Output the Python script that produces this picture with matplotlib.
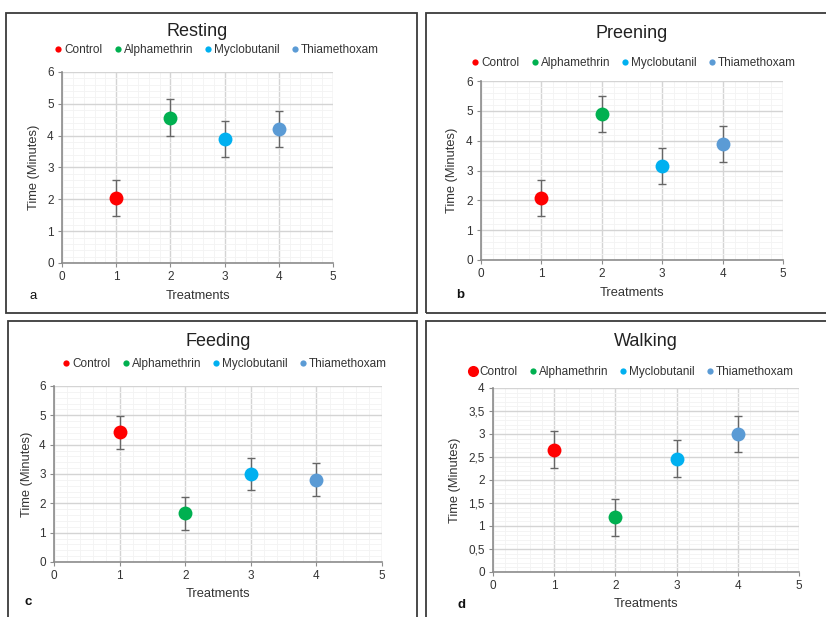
import matplotlib
matplotlib.use("Agg")
import matplotlib.pyplot as plt
from matplotlib.patches import Rectangle
from matplotlib.ticker import MultipleLocator, AutoMinorLocator, FuncFormatter

plt.rcParams['font.family'] = ['Liberation Sans', 'DejaVu Sans']

W, H = 826, 617

treatments = ["Control", "Alphamethrin", "Myclobutanil", "Thiamethoxam"]
positions = [1, 2, 3, 4]
colors = ["#ff0000", "#00b050", "#00b0f0", "#5b9bd5"]

resting = [2.05, 4.57, 3.90, 4.22]
resting_err = [0.57, 0.57, 0.57, 0.57]
preening = [2.09, 4.90, 3.14, 3.90]
preening_err = [0.60, 0.60, 0.60, 0.60]
feeding = [4.42, 1.66, 3.00, 2.80]
feeding_err = [0.56, 0.56, 0.56, 0.56]
walking = [2.66, 1.19, 2.46, 3.00]
walking_err = [0.40, 0.40, 0.40, 0.40]


def px_rect(x0, y0, x1, y1):
    return [x0 / W, 1 - y1 / H, (x1 - x0) / W, (y1 - y0) / H]


fig = plt.figure(figsize=(W / 100, H / 100), dpi=100)

# panel frames
for (x0, y0, x1, y1) in [(6, 13, 417, 313), (426, 13, 840, 313),
                         (8, 321, 417, 640), (426, 321, 840, 640)]:
    fig.patches.append(Rectangle((x0 / W, 1 - y1 / H), (x1 - x0) / W, (y1 - y0) / H,
                                 transform=fig.transFigure, fill=False,
                                 edgecolor="#3a3a3a", linewidth=1.3))

panels = [
    dict(title="Resting", vals=resting, err=resting_err, box=(62, 72, 333, 263),
         ymax=6, ystep=1, title_y=32, leg=(217, 50), ylab_x=34,
         tag="a", tag_xy=(33, 296), bold=False, xlab_y=296, big_ctrl=False),
    dict(title="Preening", vals=preening, err=preening_err, box=(481, 81, 783, 260),
         ymax=6, ystep=1, title_y=33, leg=(634, 63), ylab_x=452,
         tag="b", tag_xy=(460, 295), bold=True, xlab_y=293, big_ctrl=False),
    dict(title="Feeding", vals=feeding, err=feeding_err, box=(54, 386, 382, 562),
         ymax=6, ystep=1, title_y=342, leg=(225, 364), ylab_x=27,
         tag="c", tag_xy=(28, 602), bold=True, xlab_y=594, big_ctrl=False),
    dict(title="Walking", vals=walking, err=walking_err, box=(493, 388, 799, 572),
         ymax=4, ystep=0.5, title_y=342, leg=(632, 372), ylab_x=455,
         tag="d", tag_xy=(461, 605), bold=True, xlab_y=604, big_ctrl=True),
]

for p in panels:
    x0, y0, x1, y1 = p["box"]
    ax = fig.add_axes(px_rect(x0, y0, x1, y1))
    for i in range(4):
        ax.errorbar(positions[i], p["vals"][i], yerr=p["err"][i], fmt="none",
                    ecolor="#666666", elinewidth=1, capsize=3, capthick=1,
                    zorder=3)
        ax.plot(positions[i], p["vals"][i], "o", color=colors[i],
                markersize=10, markeredgewidth=0, zorder=4)
    ax.set_xlim(0, 5)
    ax.set_ylim(0, p["ymax"])
    ax.xaxis.set_major_locator(MultipleLocator(1))
    ax.yaxis.set_major_locator(MultipleLocator(p["ystep"]))
    ax.xaxis.set_minor_locator(AutoMinorLocator(5))
    ax.yaxis.set_minor_locator(AutoMinorLocator(5))
    if p["ystep"] < 1:
        ax.yaxis.set_major_formatter(FuncFormatter(
            lambda v, pos: ("%g" % v).replace(".", ",")))
    ax.grid(which="major", color="#d4d4d4", linewidth=1.0, zorder=0)
    ax.grid(which="minor", color="#f3f3f3", linewidth=0.6, zorder=0)
    ax.set_axisbelow(True)
    for s in ["top", "right"]:
        ax.spines[s].set_visible(False)
    for s in ["left", "bottom"]:
        ax.spines[s].set_color("#8c8c8c")
        ax.spines[s].set_linewidth(1.2)
    ax.tick_params(which="major", length=3, color="#8c8c8c", labelsize=8.5,
                   labelcolor="#333333", pad=3)
    ax.tick_params(which="minor", length=0)

    cx = (x0 + x1) / 2
    fig.text(cx / W, 1 - p["title_y"] / H, p["title"], ha="center", va="center",
             fontsize=13, color="#222222")
    fig.text(cx / W, 1 - p["xlab_y"] / H, "Treatments", ha="center", va="center",
             fontsize=9.3, color="#333333")
    fig.text(p["ylab_x"] / W, 1 - ((y0 + y1) / 2) / H, "Time (Minutes)",
             ha="center", va="center", rotation=90, fontsize=9.3, color="#333333")
    fig.text(p["tag_xy"][0] / W, 1 - p["tag_xy"][1] / H, p["tag"], ha="center",
             va="center", fontsize=9.5, fontweight="bold" if p["bold"] else "normal",
             color="#111111")

    handles = []
    for i in range(4):
        ms = 8 if (p["big_ctrl"] and i == 0) else 4.5
        h = plt.Line2D([], [], marker="o", linestyle="none", color=colors[i],
                       markersize=ms, markeredgewidth=0)
        handles.append(h)
    fig.legend(handles, treatments, loc="center",
               bbox_to_anchor=(p["leg"][0] / W, 1 - p["leg"][1] / H),
               ncol=4, frameon=False, fontsize=8.5, handlelength=0.6,
               handletextpad=0.2, columnspacing=1.0, borderpad=0,
               labelcolor="#333333")

fig.savefig("out.png", dpi=100)
